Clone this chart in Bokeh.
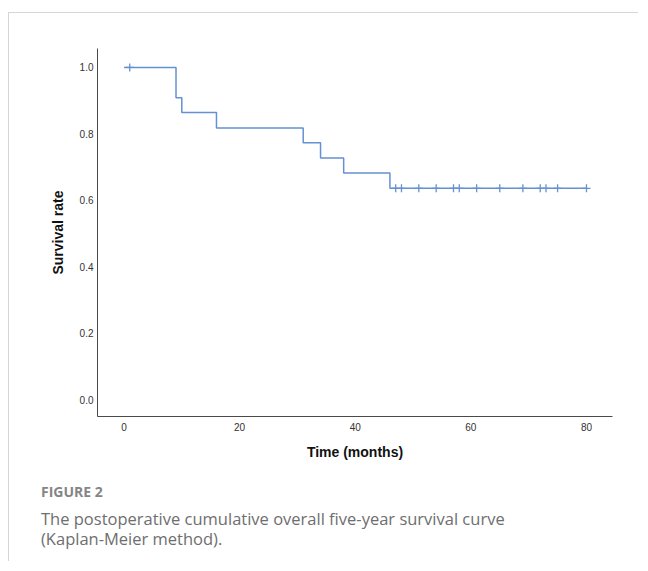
from bokeh.plotting import figure
from bokeh.models import Title, FixedTicker, CustomJSTickFormatter, Range1d
from bokeh.embed import file_html
from bokeh.resources import INLINE

# ---- data ----
step_times = [0, 9, 10, 16, 31, 34, 38, 46, 80]
step_surv = [1.0, 0.909, 0.864, 0.818, 0.773, 0.727, 0.682, 0.636, 0.636]
censor_times = [1, 47, 48, 51, 54, 57, 58, 61, 65, 69, 72, 73, 75, 80]
x_ticks = [0, 20, 40, 60, 80]
y_ticks = [0.0, 0.2, 0.4, 0.6, 0.8, 1.0]
x_title = "Time (months)"
y_title = "Survival rate"
fig_label = "FIGURE 2"
caption_lines = ["The postoperative cumulative overall five-year survival curve",
                 "(Kaplan-Meier method)."]


def surv_at(t):
    s = step_surv[0]
    for tt, ss in zip(step_times, step_surv):
        if tt <= t:
            s = ss
    return s


censor_surv = [surv_at(t) for t in censor_times]

# ---- layout ----
W, H = 630, 549
ML, MR, MT = 88, 27, 35
FW = W - ML - MR
FH = 368
MB = H - MT - FH
X0, X1 = -4.58, 84.5
Y0, Y1 = -0.051, 1.057

p = figure(width=W, height=H, output_backend="svg", toolbar_location=None,
           x_range=Range1d(X0, X1), y_range=Range1d(Y0, Y1),
           min_border_left=ML, min_border_right=MR, min_border_top=MT,
           min_border_bottom=MB)
p.styles = {"border-top": "1px solid #d6d6d6", "border-left": "1px solid #d6d6d6",
            "margin-top": "12px", "margin-left": "8px"}
p.outline_line_color = None
p.background_fill_color = "white"
p.border_fill_color = "white"
p.xgrid.visible = False
p.ygrid.visible = False

blue = "#6590d2"
p.step(step_times, step_surv, mode="after", line_color=blue, line_width=1.5)
p.scatter(censor_times, censor_surv, marker="cross", size=8, line_color=blue,
          line_width=1.3)

for ax in (p.xaxis[0], p.yaxis[0]):
    ax.axis_line_color = "#4a4a4a"
    ax.axis_line_width = 1
    ax.major_tick_line_color = None
    ax.minor_tick_line_color = None
    ax.major_tick_out = 0
    ax.major_tick_in = 0
    ax.major_label_text_font = "Liberation Sans"
    ax.major_label_text_font_size = "10px"
    ax.major_label_text_color = "#333333"
    ax.axis_label_text_font = "Liberation Sans"
    ax.axis_label_text_font_style = "bold"
    ax.axis_label_text_font_size = "14px"
    ax.axis_label_text_color = "#111111"

p.xaxis.ticker = FixedTicker(ticks=x_ticks)
p.yaxis.ticker = FixedTicker(ticks=y_ticks)
p.yaxis.formatter = CustomJSTickFormatter(code="return tick.toFixed(1);")
p.xaxis.axis_label = x_title
p.yaxis.axis_label = y_title
p.xaxis.major_label_standoff = 6
p.yaxis.major_label_standoff = 4
p.xaxis.axis_label_standoff = 10
p.yaxis.axis_label_standoff = 11

# caption as titles stacked below the x axis
CAP_OFFSET = -56.5
p.add_layout(Title(text=fig_label, align="left", offset=CAP_OFFSET, standoff=35,
                   text_font="Open Sans", text_font_size="14px",
                   text_font_style="bold", text_color="#858585"), "below")
p.add_layout(Title(text="\n".join(caption_lines), align="left", offset=CAP_OFFSET,
                   standoff=-27, text_line_height=0.87,
                   text_font="Open Sans", text_font_size="16.5px",
                   text_font_style="normal", text_color="#6e6e6e"), "below")

open("out.html", "w").write(file_html(p, INLINE))
